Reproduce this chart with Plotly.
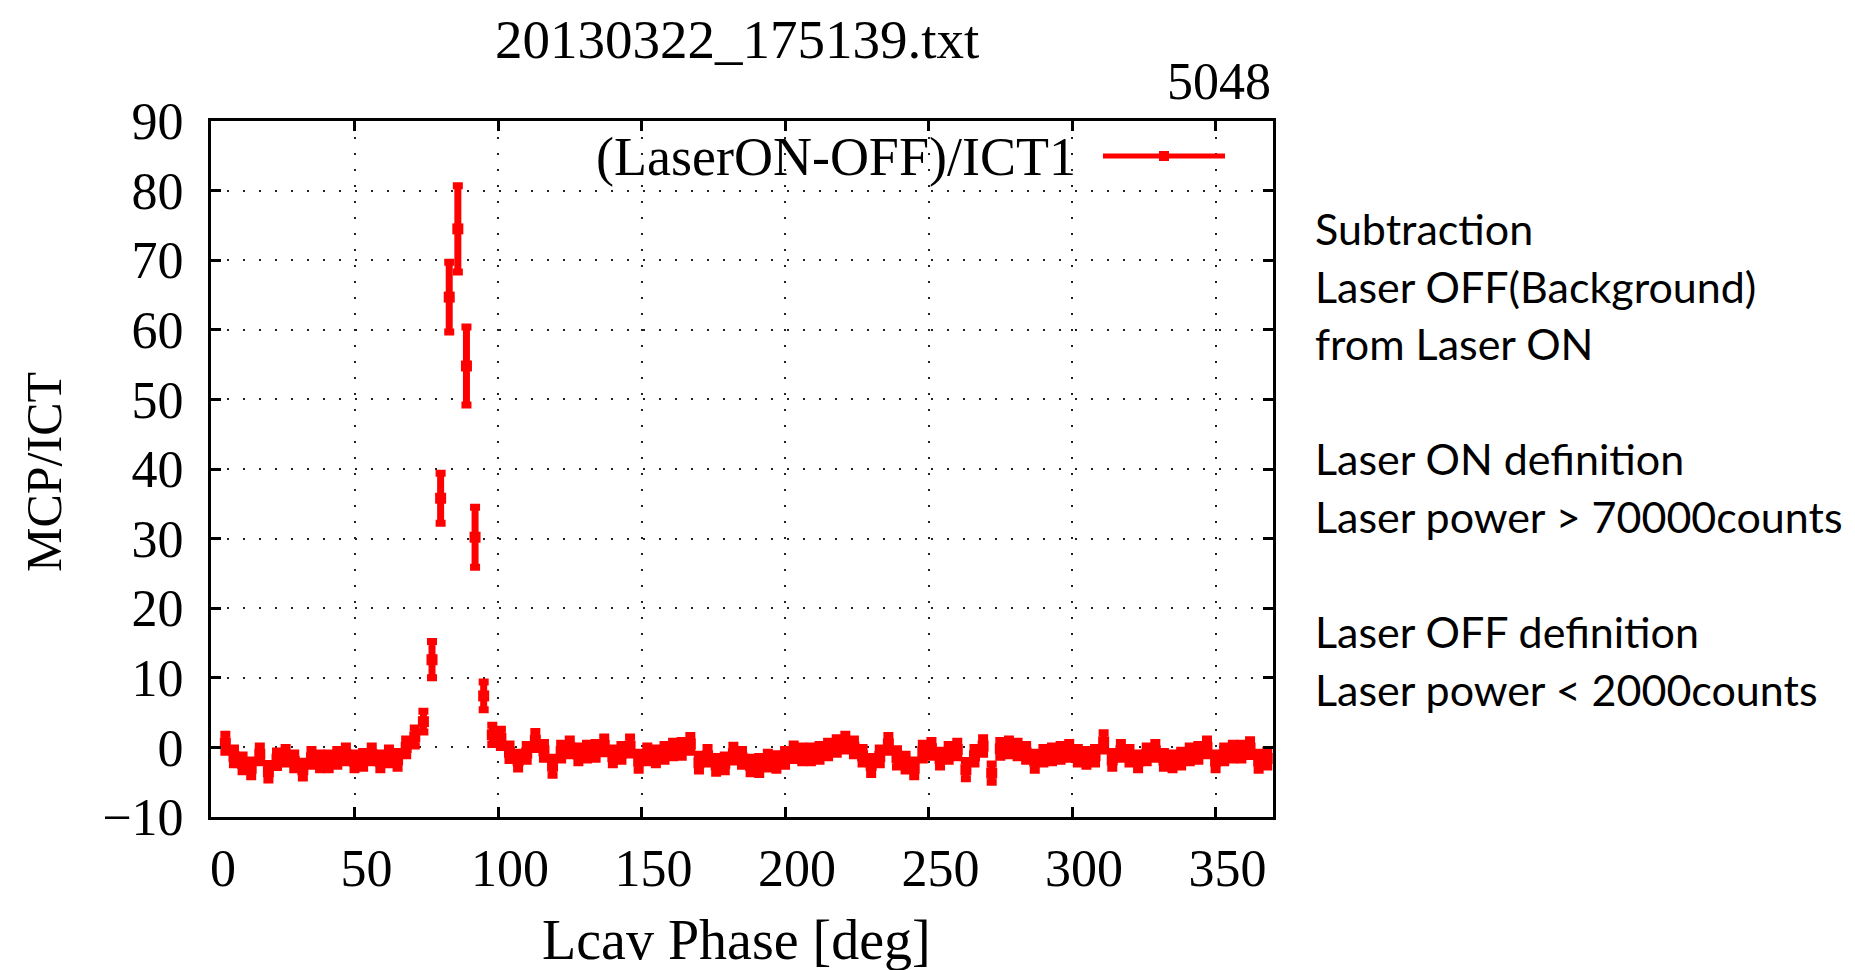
import plotly.graph_objects as go

# ---- data ----
phase_deg = [5, 8, 11, 14, 17, 20, 23, 26, 29, 32, 35, 38, 41, 44, 47, 50, 53, 56, 59, 62,
             65, 68, 71, 74, 77, 80, 83, 86, 89, 92, 95, 98, 101, 104, 107, 110, 113, 116, 119, 122,
             125, 128, 131, 134, 137, 140, 143, 146, 149, 152, 155, 158, 161, 164, 167, 170, 173, 176, 179, 182,
             185, 188, 191, 194, 197, 200, 203, 206, 209, 212, 215, 218, 221, 224, 227, 230, 233, 236, 239, 242,
             245, 248, 251, 254, 257, 260, 263, 266, 269, 272, 275, 278, 281, 284, 287, 290, 293, 296, 299, 302,
             305, 308, 311, 314, 317, 320, 323, 326, 329, 332, 335, 338, 341, 344, 347, 350, 353, 356, 359, 362,
             365, 368]
mcp_ict = [0.6, -1.3, -2.3, -3.0, -1.0, -3.5, -1.7, -1.2, -2.0, -3.2, -1.5, -2.0, -2.0, -1.5, -1.0, -2.0, -1.8, -1.0, -2.0, -1.3,
           -1.8, 0.0, 1.5, 3.7, 12.6, 35.8, 64.7, 74.5, 54.8, 30.2, 7.4, 1.8, 1.3, -0.7, -1.9, -0.8, 1.0, -0.5, -2.7, -0.6,
           0.0, -1.0, -0.6, -0.5, 0.3, -1.3, -0.8, 0.2, -2.0, -1.0, -1.3, -0.8, -0.3, -0.2, 0.5, -2.2, -1.2, -2.5, -2.3, -0.9,
           -1.5, -2.6, -2.6, -1.9, -2.1, -1.5, -0.7, -1.0, -1.0, -0.8, -0.3, 0.2, 0.7, 0.0, -1.2, -2.6, -1.3, 0.5, -1.5, -2.2,
           -3.0, -0.6, -0.2, -1.6, -0.8, -0.3, -3.2, -1.2, 0.2, -3.7, -0.2, 0.0, -0.3, -0.8, -2.0, -1.2, -1.0, -0.8, -0.5, -1.2,
           -1.5, -1.2, 0.8, -1.8, -0.5, -1.2, -2.0, -1.0, -0.5, -1.8, -2.0, -1.6, -1.0, -0.8, 0.0, -2.0, -1.0, -0.6, -0.6, -0.1,
           -2.0, -1.6]
mcp_err = [1.3, 1.2, 1.2, 1.2, 1.2, 1.2, 1.2, 1.2, 1.2, 1.2, 1.2, 1.2, 1.2, 1.2, 1.2, 1.2, 1.2, 1.2, 1.2, 1.2,
           1.2, 1.2, 1.3, 1.5, 2.6, 3.6, 5.0, 6.2, 5.6, 4.3, 2.0, 1.4, 1.3, 1.2, 1.2, 1.2, 1.3, 1.2, 1.3, 1.2,
           1.2, 1.2, 1.2, 1.2, 1.2, 1.2, 1.2, 1.3, 1.3, 1.2, 1.2, 1.2, 1.2, 1.2, 1.2, 1.2, 1.2, 1.2, 1.2, 1.2,
           1.2, 1.2, 1.3, 1.2, 1.2, 1.2, 1.2, 1.2, 1.2, 1.2, 1.2, 1.2, 1.2, 1.2, 1.2, 1.3, 1.2, 1.2, 1.3, 1.2,
           1.2, 1.2, 1.2, 1.2, 1.2, 1.2, 1.3, 1.2, 1.2, 1.3, 1.2, 1.2, 1.2, 1.2, 1.3, 1.2, 1.2, 1.2, 1.2, 1.2,
           1.2, 1.2, 1.3, 1.2, 1.2, 1.2, 1.2, 1.2, 1.2, 1.2, 1.2, 1.2, 1.2, 1.2, 1.2, 1.2, 1.2, 1.2, 1.2, 1.2,
           1.3, 1.2]

x_ticks = [0, 50, 100, 150, 200, 250, 300, 350]
y_ticks = [-10, 0, 10, 20, 30, 40, 50, 60, 70, 80, 90]

title_text = "20130322_175139.txt"
count_text = "5048"
legend_text = "(LaserON-OFF)/ICT1"
x_title = "Lcav Phase [deg]"
y_title = "MCP/ICT"
notes = ["Subtraction", "Laser OFF(Background)", "from Laser ON",
         "Laser ON definition", "Laser power > 70000counts",
         "Laser OFF definition", "Laser power < 2000counts"]
note_rows_px = [228, 286, 343, 458, 516, 631, 689]

# ---- layout geometry (pixels) ----
W, H = 1855, 970
L, R, T, B = 211, 1273, 121, 817
PW, PH = R - L, B - T


def px(x):
    return (x - L) / PW


def py(y):
    return (B - y) / PH


def fmt(v):
    return str(v).replace("-", "\u2212")


SERIF = "Liberation Serif"
RED = "#ff0000"

fig = go.Figure()
fig.add_trace(go.Scatter(
    x=phase_deg, y=mcp_ict,
    mode="markers",
    marker=dict(color=RED, size=11, symbol="square"),
    error_y=dict(type="data", array=mcp_err, visible=True, color=RED, thickness=7, width=5),
    showlegend=False,
    hoverinfo="x+y",
))

axis_common = dict(
    showline=True, linecolor="black", linewidth=3, mirror="ticks",
    ticks="inside", ticklen=10, tickwidth=3, tickcolor="black",
    showgrid=True, gridcolor="#222222", gridwidth=2, griddash="2px,14px",
    zeroline=False,
    tickfont=dict(family=SERIF, size=52, color="black"),
)

fig.update_xaxes(range=[0, 370], tickvals=x_ticks, ticktext=[fmt(v) for v in x_ticks],
                 ticklabelstandoff=4, ticklabelshift=12, **axis_common)
fig.update_yaxes(range=[-10, 90], tickvals=y_ticks, ticktext=[fmt(v) for v in y_ticks],
                 ticklabelstandoff=14, **axis_common)

annotations = [
    dict(text=title_text, x=px(737), y=py(40), xanchor="center", yanchor="middle",
         font=dict(family=SERIF, size=55, color="black")),
    dict(text=count_text, x=px(1273), y=py(82), xanchor="right", yanchor="middle",
         font=dict(family=SERIF, size=52, color="black")),
    dict(text=legend_text, x=px(1078), y=py(157), xanchor="right", yanchor="middle",
         font=dict(family=SERIF, size=54, color="black")),
    dict(text=x_title, x=px(736), y=py(940), xanchor="center", yanchor="middle",
         font=dict(family=SERIF, size=56, color="black")),
    dict(text=y_title, x=px(44), y=py(472), xanchor="center", yanchor="middle", textangle=-90,
         font=dict(family=SERIF, size=50, color="black")),
]
for line, ypx in zip(notes, note_rows_px):
    annotations.append(dict(text=line, x=px(1313), y=py(ypx), xanchor="left", yanchor="middle",
                            font=dict(family="Lato", size=43, color="black")))
for a in annotations:
    a.update(xref="paper", yref="paper", showarrow=False)

shapes = [
    dict(type="line", xref="paper", yref="paper", x0=px(1103), x1=px(1225), y0=py(156), y1=py(156),
         line=dict(color=RED, width=5)),
    dict(type="rect", xref="paper", yref="paper", x0=px(1159), x1=px(1169), y0=py(151), y1=py(161),
         fillcolor=RED, line=dict(width=0)),
]

fig.update_layout(
    width=W, height=H,
    margin=dict(l=L, r=W - R, t=T, b=H - B, pad=0),
    paper_bgcolor="white", plot_bgcolor="white",
    annotations=annotations, shapes=shapes,
    showlegend=False,
)

fig.write_html("out.html")
